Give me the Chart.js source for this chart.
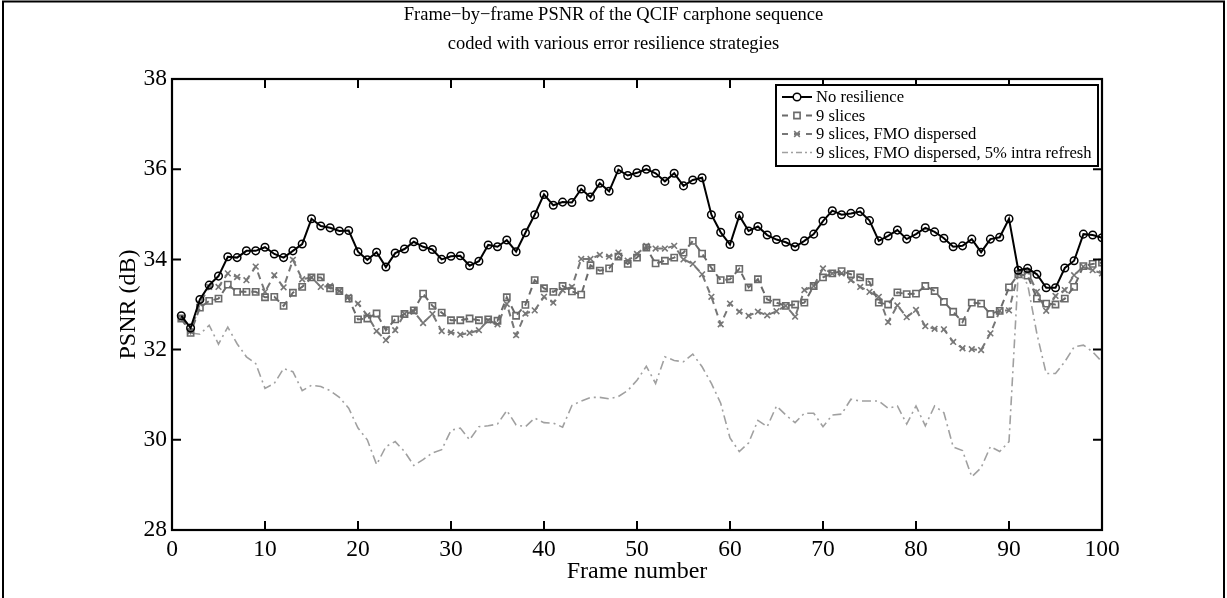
<!DOCTYPE html>
<html>
<head>
<meta charset="utf-8">
<script src="https://cdn.jsdelivr.net/npm/chart.js@4/dist/chart.umd.min.js"></script>
<style>
html,body{margin:0;padding:0;background:#fff;}
#wrap{width:1227px;height:598px;position:relative;}
</style>
</head>
<body>
<div id="wrap"><canvas id="c" width="1227" height="598"></canvas></div>
<script>
// ---------- data ----------
const frames = [1,2,3,4,5,6,7,8,9,10,11,12,13,14,15,16,17,18,19,20,21,22,23,24,25,26,27,28,29,30,31,32,33,34,35,36,37,38,39,40,41,42,43,44,45,46,47,48,49,50,51,52,53,54,55,56,57,58,59,60,61,62,63,64,65,66,67,68,69,70,71,72,73,74,75,76,77,78,79,80,81,82,83,84,85,86,87,88,89,90,91,92,93,94,95,96,97,98,99,100];

const noResilience = [32.75,32.48,33.11,33.43,33.63,34.06,34.04,34.19,34.19,34.27,34.12,34.04,34.19,34.34,34.90,34.74,34.70,34.63,34.64,34.17,33.99,34.16,33.83,34.14,34.23,34.39,34.28,34.22,34.00,34.07,34.08,33.86,33.96,34.32,34.28,34.43,34.17,34.59,34.99,35.44,35.20,35.27,35.26,35.56,35.38,35.69,35.51,35.99,35.86,35.92,36.00,35.91,35.73,35.91,35.63,35.76,35.81,34.99,34.60,34.33,34.97,34.63,34.73,34.54,34.44,34.38,34.28,34.41,34.56,34.85,35.08,34.99,35.02,35.06,34.86,34.41,34.52,34.65,34.45,34.56,34.70,34.61,34.47,34.28,34.30,34.45,34.16,34.45,34.49,34.90,33.76,33.80,33.67,33.37,33.37,33.81,33.97,34.56,34.54,34.48];

const slices9 = [32.69,32.37,32.93,33.08,33.13,33.44,33.28,33.28,33.28,33.16,33.17,32.97,33.26,33.39,33.60,33.60,33.36,33.30,33.13,32.67,32.69,32.80,32.43,32.67,32.79,32.87,33.24,32.97,32.82,32.65,32.65,32.69,32.65,32.67,32.64,33.16,32.75,32.99,33.54,33.36,33.28,33.41,33.29,33.22,33.87,33.75,33.80,34.06,33.90,34.04,34.26,33.91,33.97,34.04,34.15,34.41,34.13,33.81,33.54,33.56,33.79,33.38,33.56,33.11,33.04,32.97,33.00,33.04,33.41,33.60,33.69,33.74,33.67,33.60,33.50,33.04,33.00,33.27,33.23,33.24,33.41,33.30,33.06,32.84,32.61,33.04,33.02,32.79,32.86,33.38,33.67,33.64,33.13,33.02,33.00,33.13,33.39,33.85,33.90,33.93];

const slices9Fmo = [32.69,32.41,33.02,33.39,33.39,33.69,33.61,33.54,33.84,33.28,33.65,33.38,33.99,33.56,33.60,33.39,33.41,33.30,33.17,33.02,32.76,32.41,32.21,32.43,32.79,32.84,32.59,32.79,32.41,32.38,32.33,32.37,32.43,32.65,32.56,33.01,32.32,32.80,32.87,33.17,33.04,33.32,33.39,34.01,34.01,34.10,34.06,34.15,33.97,34.12,34.30,34.24,34.24,34.30,34.00,33.90,33.67,33.17,32.56,33.02,32.84,32.75,32.84,32.76,32.85,32.97,32.73,33.32,33.41,33.80,33.69,33.69,33.54,33.39,33.28,33.17,32.61,32.98,32.72,32.88,32.52,32.46,32.45,32.17,32.03,32.01,31.99,32.36,32.86,32.87,33.70,33.73,33.28,32.86,33.19,33.32,33.65,33.84,33.76,33.69];

const slices9FmoIntra = [32.72,32.37,32.34,32.54,32.12,32.50,32.13,31.84,31.69,31.14,31.25,31.58,31.51,31.09,31.21,31.18,31.09,30.94,30.70,30.26,30.00,29.45,29.85,29.96,29.74,29.43,29.56,29.71,29.78,30.21,30.26,30.00,30.29,30.31,30.35,30.65,30.33,30.29,30.48,30.38,30.37,30.28,30.76,30.86,30.94,30.94,30.91,30.96,31.09,31.32,31.63,31.25,31.84,31.76,31.73,31.90,31.62,31.25,30.81,30.04,29.74,29.93,30.43,30.29,30.75,30.55,30.38,30.59,30.59,30.29,30.55,30.57,30.90,30.86,30.86,30.86,30.70,30.75,30.35,30.75,30.31,30.75,30.60,29.84,29.76,29.18,29.38,29.85,29.74,29.96,33.72,33.45,32.35,31.47,31.47,31.73,32.06,32.10,31.95,31.73];

const seriesLabels = ['No resilience','9 slices','9 slices, FMO dispersed','9 slices, FMO dispersed, 5% intra refresh'];
const xTicks = [0,10,20,30,40,50,60,70,80,90,100];
const yTicks = [28,30,32,34,36,38];
const titleLines = ['Frame\u2212by\u2212frame PSNR of the QCIF carphone sequence','coded with various error resilience strategies'];
const xTitle = 'Frame number';
const yTitle = 'PSNR (dB)';

// ---------- chart ----------
const SERIF = "'Liberation Serif','Times New Roman',serif";
const pts = v => frames.map((f,i)=>({x:f,y:v[i]}));

function drawMarker(ctx, style, r, x, y){
  ctx.beginPath();
  if(style==='circle'){ ctx.arc(x,y,r,0,Math.PI*2); }
  else if(style==='rect'){ const s=Math.SQRT1_2*r; ctx.rect(x-s,y-s,2*s,2*s); }
  else if(style==='crossRot'){ const s=Math.SQRT1_2*r; ctx.moveTo(x-s,y-s);ctx.lineTo(x+s,y+s);ctx.moveTo(x-s,y+s);ctx.lineTo(x+s,y-s); }
  ctx.stroke();
}

const framePlugin = {
  id:'framePlugin',
  afterDraw(chart){
    const ctx = chart.ctx, a = chart.chartArea;
    const xs = chart.scales.x, ys = chart.scales.y;
    ctx.save();
    // outer figure border
    ctx.strokeStyle='#000'; ctx.lineWidth=2; ctx.setLineDash([]);
    ctx.beginPath();
    ctx.moveTo(3,598); ctx.lineTo(3,1.5); ctx.lineTo(1224,1.5); ctx.lineTo(1224,598);
    ctx.stroke();
    // axes box
    ctx.lineWidth=2.2;
    ctx.strokeRect(a.left,a.top,a.right-a.left,a.bottom-a.top);
    // inward ticks on all sides
    ctx.lineWidth=2;
    const tl=9;
    ctx.beginPath();
    xs.ticks.forEach(t=>{
      const px = xs.getPixelForValue(t.value);
      ctx.moveTo(px,a.bottom); ctx.lineTo(px,a.bottom-tl);
      ctx.moveTo(px,a.top); ctx.lineTo(px,a.top+tl);
    });
    ys.ticks.forEach(t=>{
      const py = ys.getPixelForValue(t.value);
      ctx.moveTo(a.left,py); ctx.lineTo(a.left+tl,py);
      ctx.moveTo(a.right,py); ctx.lineTo(a.right-tl,py);
    });
    ctx.stroke();
    // legend
    const L={x0:776,y0:85,x1:1098,y1:166};
    ctx.fillStyle='#fff';
    ctx.fillRect(L.x0,L.y0,L.x1-L.x0,L.y1-L.y0);
    ctx.strokeStyle='#000'; ctx.lineWidth=2;
    ctx.strokeRect(L.x0,L.y0,L.x1-L.x0,L.y1-L.y0);
    const rowY=[97,115.5,134,152.5];
    ctx.font="16.6px "+SERIF;
    ctx.textBaseline='middle'; ctx.textAlign='left';
    chart.data.datasets.forEach((ds,i)=>{
      const y=rowY[i];
      ctx.strokeStyle=ds.borderColor; ctx.lineWidth=ds.borderWidth;
      ctx.setLineDash(ds.legendDash||[]);
      ctx.beginPath(); ctx.moveTo(782,y); ctx.lineTo(812,y); ctx.stroke();
      ctx.setLineDash([]);
      if(ds.pointRadius>0){
        ctx.lineWidth=ds.pointBorderWidth; ctx.strokeStyle=ds.pointBorderColor;
        if(ds.pointStyle==='rect'){ ctx.fillStyle='#fff'; const s=Math.SQRT1_2*ds.pointRadius; ctx.fillRect(797-s,y-s,2*s,2*s);}
        if(ds.pointStyle==='circle'){ ctx.fillStyle='#fff'; ctx.beginPath(); ctx.arc(797,y,ds.pointRadius,0,Math.PI*2); ctx.fill();}
        drawMarker(ctx,ds.pointStyle,ds.pointRadius,797,y);
      }
      ctx.fillStyle='#000';
      ctx.fillText(ds.label,816,y+1);
    });
    ctx.restore();
  }
};

new Chart(document.getElementById('c'),{
  type:'line',
  data:{
    datasets:[
      {label:seriesLabels[0],data:pts(noResilience),borderColor:'#000',borderWidth:2,
       pointStyle:'circle',pointRadius:3.8,pointBorderWidth:1.5,pointBorderColor:'#000',pointBackgroundColor:'rgba(255,255,255,0)',legendDash:[]},
      {label:seriesLabels[1],data:pts(slices9),borderColor:'#6a6a6a',borderWidth:2,borderDash:[7,5],
       pointStyle:'rect',pointRadius:4.4,pointBorderWidth:1.6,pointBorderColor:'#6a6a6a',pointBackgroundColor:'rgba(255,255,255,0)',legendDash:[6,6]},
      {label:seriesLabels[2],data:pts(slices9Fmo),borderColor:'#777777',borderWidth:2,borderDash:[7,5],
       pointStyle:'crossRot',pointRadius:4,pointBorderWidth:1.6,pointBorderColor:'#777777',pointBackgroundColor:'rgba(255,255,255,0)',legendDash:[6,6]},
      {label:seriesLabels[3],data:pts(slices9FmoIntra),borderColor:'#a0a0a0',borderWidth:1.6,borderDash:[9,4,2,4],
       pointRadius:0,pointStyle:'circle',pointBorderWidth:0,pointBorderColor:'#a0a0a0',legendDash:[6,3,2,3]}
    ]
  },
  options:{
    responsive:false,animation:false,
    layout:{padding:{left:0,right:0,top:0,bottom:0}},
    elements:{line:{tension:0}},
    plugins:{
      legend:{display:false},
      tooltip:{enabled:false},
      title:{display:true,text:titleLines,color:'#000',
        font:{family:SERIF,size:18.5,weight:'normal',lineHeight:29/18.5},
        padding:{top:0.5,bottom:20.5}}
    },
    scales:{
      x:{type:'linear',min:0,max:100,
        afterBuildTicks:s=>{s.ticks=xTicks.map(v=>({value:v}));},
        grid:{display:false,drawTicks:false},border:{display:false},
        ticks:{color:'#000',font:{family:SERIF,size:23.5},padding:6,maxRotation:0},
        title:{display:true,text:xTitle,color:'#000',font:{family:SERIF,size:24},padding:{top:0,bottom:12}},
        afterFit:s=>{s.height=68;}
      },
      y:{type:'linear',min:28,max:38,
        afterBuildTicks:s=>{s.ticks=yTicks.map(v=>({value:v}));},
        grid:{display:false,drawTicks:false},border:{display:false},
        ticks:{color:'#000',font:{family:SERIF,size:23.5},padding:5},
        title:{display:true,text:yTitle,color:'#000',font:{family:SERIF,size:24},padding:{top:114,bottom:0}},
        afterFit:s=>{s.width=172;}
      },
      yRight:{type:'linear',position:'right',min:28,max:38,
        grid:{display:false,drawTicks:false},border:{display:false},
        ticks:{display:false},
        afterFit:s=>{s.width=125;}
      }
    }
  },
  plugins:[framePlugin]
});
</script>
</body>
</html>
